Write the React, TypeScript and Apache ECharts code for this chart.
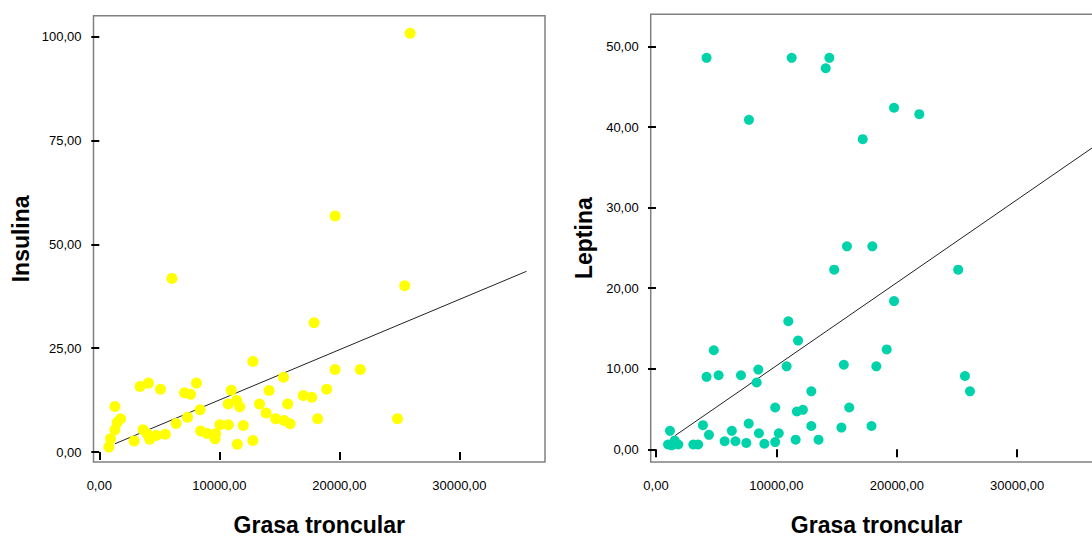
import React, { useEffect, useRef } from "react";
import * as echarts from "echarts";

// Insulina vs Grasa troncular
const insulinaPoints: number[][] = [
  [800, 1.2], [940, 3.2], [1300, 5.4], [1500, 7.2], [1770, 8.0], [1300, 11.0], [2900, 2.7],
  [3400, 15.8], [4100, 16.6], [5100, 15.1], [3650, 5.4], [4000, 4.4], [4200, 3.1], [4750, 4.0],
  [5500, 4.3], [6050, 41.8], [6400, 6.9], [7100, 14.3], [7600, 13.9], [8100, 16.6], [7350, 8.4],
  [8400, 10.2], [8450, 5.1], [9000, 4.5], [9650, 3.2], [9700, 4.4], [10050, 6.6], [10750, 6.6],
  [11000, 14.9], [10750, 11.6], [11450, 12.4], [11700, 10.9], [11500, 1.9], [12000, 6.4],
  [12800, 2.8], [12800, 21.8], [13350, 11.6], [13900, 9.4], [14150, 14.8], [14700, 8.0],
  [15350, 18.0], [15700, 11.6], [15400, 7.6], [15900, 6.8], [17000, 13.6], [17700, 13.2],
  [18200, 8.0], [17900, 31.1], [18950, 15.1], [19650, 19.9], [19650, 56.8], [21750, 19.9],
  [24850, 8.0], [25450, 40.0], [25900, 100.8],
];
const insulinaFit: number[][] = [[1300, 2.0], [35600, 43.5]];

// Leptina vs Grasa troncular
const leptinaPoints: number[][] = [
  [1000, 0.6], [1300, 0.5], [1600, 0.7], [1850, 0.6], [1550, 1.1], [1160, 2.3], [3100, 0.6],
  [3500, 0.6], [3900, 3.0], [4400, 1.8], [4200, 9.0], [4800, 12.3], [5200, 9.2], [5700, 1.0],
  [6300, 2.3], [6600, 1.0], [7060, 9.2], [7500, 0.8], [7700, 3.2], [7720, 40.9], [8500, 9.9],
  [8360, 8.3], [8550, 2.0], [9000, 0.7], [9900, 5.2], [9900, 0.9], [10200, 2.0], [10850, 10.3],
  [10990, 15.9], [11800, 13.5], [11700, 4.7], [12200, 4.9], [11600, 1.2], [12900, 7.2],
  [12900, 2.9], [13500, 1.2], [15600, 10.5], [16050, 5.2], [15400, 2.7], [17900, 2.9],
  [18300, 10.3], [19160, 12.4], [25660, 9.1], [26080, 7.2], [4200, 48.6], [11270, 48.6],
  [14400, 48.6], [14100, 47.3], [19770, 42.4], [21870, 41.6], [17170, 38.5], [15860, 25.2],
  [17970, 25.2], [14800, 22.3], [25100, 22.3], [19770, 18.4],
];
const leptinaFit: number[][] = [[1580, 1.7], [36500, 37.7]];

const xTicks = [0, 10000, 20000, 30000];
const insulinaTicks = [0, 25, 50, 75, 100];
const leptinaTicks = [0, 10, 20, 30, 40, 50];

const xTitle = "Grasa troncular";
const leftTitle = "Insulina";
const rightTitle = "Leptina";

const fmt = (v: number) => Number(v).toFixed(2).replace(".", ",");
const FONT = "'Liberation Sans', Arial, sans-serif";

function xAxisCfg(gridIndex: number, min: number, max: number) {
  return {
    type: "value",
    gridIndex,
    min,
    max,
    name: xTitle,
    nameLocation: "middle",
    nameGap: 51,
    nameTextStyle: { fontFamily: FONT, fontSize: 23, fontWeight: "bold", color: "#000" },
    axisLine: { show: false },
    axisTick: {
      show: true,
      customValues: xTicks,
      length: 8,
      lineStyle: { color: "#000", width: 2 },
    },
    axisLabel: {
      customValues: xTicks,
      formatter: fmt,
      margin: 17,
      fontFamily: FONT,
      fontSize: 13,
      color: "#000",
    },
    splitLine: { show: false },
  };
}

function yAxisCfg(gridIndex: number, min: number, max: number, ticks: number[], name: string, gap: number) {
  return {
    type: "value",
    gridIndex,
    min,
    max,
    name,
    nameLocation: "middle",
    nameGap: gap,
    nameRotate: 90,
    nameTextStyle: { fontFamily: FONT, fontSize: 23, fontWeight: "bold", color: "#000" },
    axisLine: { show: false },
    axisTick: {
      show: true,
      customValues: ticks,
      length: 8,
      lineStyle: { color: "#000", width: 2 },
    },
    axisLabel: {
      customValues: ticks,
      formatter: fmt,
      margin: 12,
      fontFamily: FONT,
      fontSize: 13,
      color: "#000",
    },
    splitLine: { show: false },
  };
}

export default function App() {
  const ref = useRef<HTMLDivElement>(null);
  useEffect(() => {
    if (!ref.current) return;
    const chart = echarts.init(ref.current, undefined, { renderer: "svg" });
    chart.setOption({
      animation: false,
      backgroundColor: "#fff",
      grid: [
        { left: 93.5, top: 15.7, width: 451.5, height: 451, show: true, borderColor: "#808080", borderWidth: 1.5, backgroundColor: "#fff" },
        { left: 650.7, top: 14.3, width: 451.5, height: 454, show: true, borderColor: "#808080", borderWidth: 1.5, backgroundColor: "#fff" },
      ],
      xAxis: [xAxisCfg(0, -483, 37140), xAxisCfg(1, -440, 37060)],
      yAxis: [
        yAxisCfg(0, -2.38, 105, insulinaTicks, leftTitle, 61),
        yAxisCfg(1, -1.57, 54, leptinaTicks, rightTitle, 55),
      ],
      series: [
        {
          type: "line",
          xAxisIndex: 0,
          yAxisIndex: 0,
          data: insulinaFit,
          showSymbol: false,
          lineStyle: { color: "#222", width: 1 },
          z: 1,
        },
        {
          type: "scatter",
          xAxisIndex: 0,
          yAxisIndex: 0,
          data: insulinaPoints,
          symbol: "circle",
          symbolSize: 11,
          itemStyle: { color: "#FFFF00", opacity: 1 },
          z: 2,
        },
        {
          type: "line",
          xAxisIndex: 1,
          yAxisIndex: 1,
          data: leptinaFit,
          showSymbol: false,
          lineStyle: { color: "#222", width: 1 },
          z: 1,
        },
        {
          type: "scatter",
          xAxisIndex: 1,
          yAxisIndex: 1,
          data: leptinaPoints,
          symbol: "circle",
          symbolSize: 10,
          itemStyle: { color: "#00D2AA", opacity: 1 },
          z: 2,
        },
      ],
    });
    return () => chart.dispose();
  }, []);
  return (
    <div
      style={{ position: "absolute", left: 0, top: 0, width: 1092, height: 541, overflow: "hidden", background: "#fff" }}
    >
      <div ref={ref} style={{ width: 1120, height: 541 }} />
    </div>
  );
}
